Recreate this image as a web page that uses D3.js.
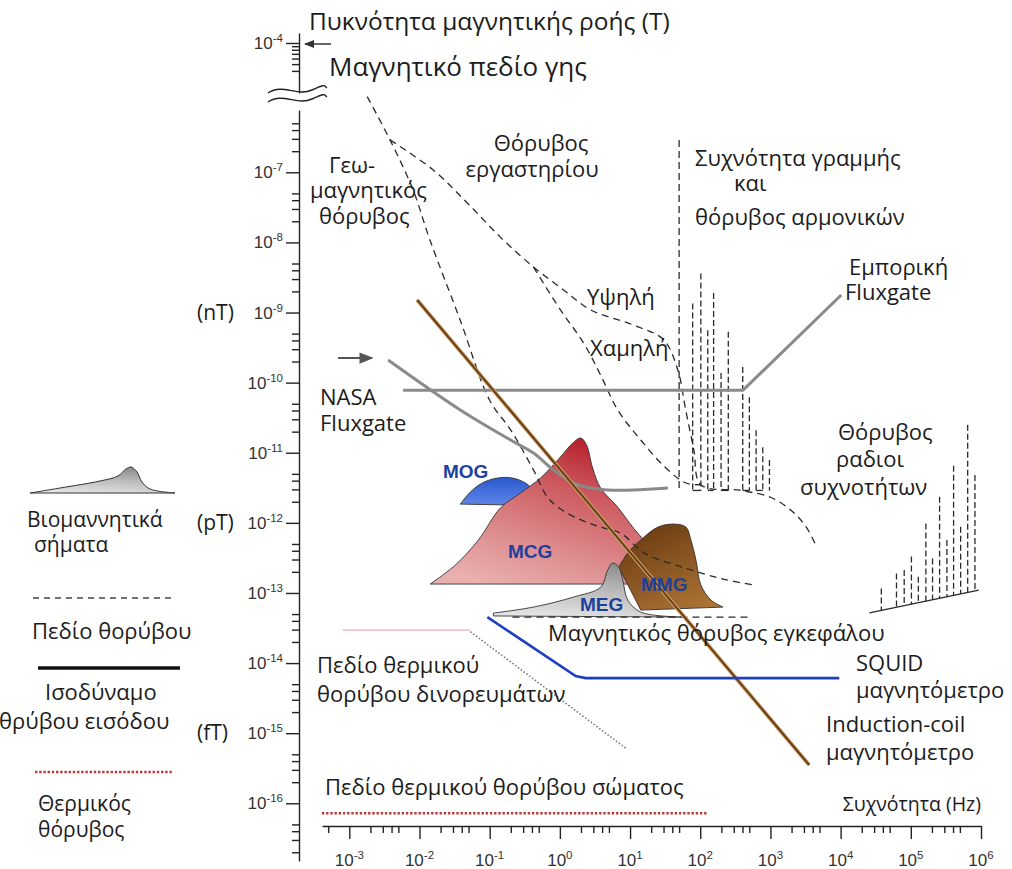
<!DOCTYPE html>
<html>
<head>
<meta charset="utf-8">
<script src="https://cdn.jsdelivr.net/npm/d3@7"></script>
<style>
  body { margin: 0; background: #fff; }
  svg { display: block; }
  .lbl { font-family: "Open Sans", "Noto Sans", sans-serif; font-size: 22px; fill: #1c1c1c; }
  .tk { font-family: "Liberation Sans", Arial, sans-serif; font-size: 17px; fill: #333; }
  .bio { font-family: "Liberation Sans", Arial, sans-serif; font-weight: bold; font-size: 19px; fill: #1d3f9e; }
</style>
</head>
<body>
<svg id="chart" width="1012" height="869"></svg>
<script>
// ---- Noise fields: [frequency (Hz), flux density (T)] ----
const geomagneticNoise = [[1.8e-3,1.2e-6],[3.8e-3,2.9e-7],[8.1e-3,5.6e-8],[1.4e-2,1.1e-8],[3.8e-2,7.8e-10],
  [0.10,5.6e-11],[0.20,2.1e-11],[0.42,5.7e-12],[0.67,2.3e-12],[1.1,1.5e-12],[2.0,1.1e-12],[3.8,8.7e-13],
  [7.4,7.1e-13],[16,3.7e-13],[58,2.3e-13],[200,1.6e-13],[570,1.3e-13]];
const labNoiseHigh = [[3.8e-3,2.9e-7],[1.57e-2,1.08e-7],[4.8e-2,3.65e-8],[0.142,1.19e-8],[0.42,4.46e-9],
  [1.13,2.1e-9],[2.75,1.09e-9],[11.3,6.6e-10],[30,4.1e-10],[48,1.5e-10],[62,4.1e-11],[81,1.1e-11],
  [102,3.5e-12],[380,2.9e-12],[1020,2.3e-12],[1980,1.5e-12],[3240,8.7e-13],[4600,4.4e-13]];
const labNoiseLow = [[0.42,4.46e-9],[1.02,1.09e-9],[2.18,3.67e-10],[3.81,1.28e-10],[6.67,4.07e-11],
  [14.2,1.52e-11],[32.4,6.05e-12],[62.5,3.7e-12],[102,3.5e-12]];
const brainNoise = [[0.211,4.53e-14],[530,4.53e-14]];

// ---- Power-line frequency and harmonics ----
const lineFrequency = 50;
const lineFrequencySpan = [2.9e-7, 2.9e-12];
const harmonicFreqs = [78,102,128,155,198,251,403,501,625,778,968];
const harmonicTops  = [1.35e-9,3.6e-9,5.6e-10,1.9e-9,1.37e-10,5.3e-10,1.67e-10,6.2e-11,2.1e-11,1.2e-11,7.9e-12];
const harmonicBase  = 2.9e-12;

// ---- Radio-frequency noise ----
const radioFreqs = [3.8e4,6.25e4,8.05e4,1.02e5,1.28e5,1.64e5,2.04e5,2.57e5,3.27e5,4.07e5,5.13e5,6.46e5,8.2e5];
const radioTops  = [1.16e-13,1.9e-13,2.12e-13,3.3e-13,1.7e-13,9.8e-13,3.1e-13,2.36e-12,5.7e-13,6.5e-12,8.8e-13,2.5e-11,4.8e-12];
const radioBase  = [[2.57e4,5.2e-14],[9.3e5,1.1e-13]];

// ---- Sensor input-equivalent noise ----
const nasaFluxgate = [[3.57e-3,2.1e-10],[3.81e-2,4.07e-11],[0.198,1.52e-11],[0.42,9.9e-12],[0.813,5.66e-12],
  [1.57,3.7e-12],[2.75,3.14e-12],[4.8,2.94e-12],[11.3,2.94e-12],[34.6,3.14e-12]];
const commercialFluxgate = [[5.85e-3,7.8e-11],[407,7.8e-11],[1.02e4,1.78e-9]];
const inductionCoil = [[9.27e-3,1.51e-9],[3.57e3,3.51e-16]];
const squidMagnetometer = [[9.27e-2,4.53e-14],[1.68,6.53e-15],[2.33,6.1e-15],[9.57e3,6.1e-15]];

// ---- Thermal noise ----
const eddyThermalFlat  = [[8.1e-4,2.96e-14],[5.3e-2,2.96e-14]];
const eddyThermalSlope = [[5.3e-2,2.8e-14],[8.7,6.1e-16]];
const bodyThermal = [[4.07e-4,7.2e-17],[129,7.2e-17]];

// ---- Biomagnetic signals (upper outline, then base) ----
const mogTop = [[3.81e-2,1.85e-12],[5.3e-2,2.75e-12],[7.83e-2,3.7e-12],[0.129,4.36e-12],[0.211,4.36e-12],[0.324,3.7e-12],[0.42,2.94e-12]];
const mogBase = [[0.275,1.79e-12]];
const mcgTop = [[1.42e-2,1.34e-13],[3.24e-2,2.5e-13],[6.9e-2,5.69e-13],[0.142,1.63e-12],[0.275,2.66e-12],[0.53,4.36e-12],
  [1.02,8.7e-12],[1.52,1.37e-11],[1.98,1.62e-11],[2.4,1.29e-11],[2.93,6.05e-12],[3.81,3.14e-12],[6.67,1.68e-12],
  [11.3,8.3e-13],[19.8,4.4e-13],[32.4,2.5e-13],[53,1.34e-13]];
const mcgBase = [];
const mmgTop = [[6.9,2.34e-13],[9.27,3.71e-13],[14.2,5.69e-13],[24.9,8.7e-13],[42.1,9.6e-13],[62.5,8.7e-13],[73.6,5.69e-13],
  [86.9,2.94e-13],[102,1.3e-13],[142,7.93e-14],[211,6.29e-14]];
const mmgBase = [[14.2,5.7e-14]];
const megTop = [[0.113,5.16e-14],[0.42,6.29e-14],[1.57,8.75e-14],[3.81,1.21e-13],[4.8,2.12e-13],[5.66,2.67e-13],[6.9,2.34e-13],
  [7.87,1.53e-13],[9.27,7.93e-14],[14.2,5.33e-14],[58.5,4.53e-14]];
const megBase = [[0.113,4.7e-14]];

// ---- Axes ----
const xTickExponents = [-3,-2,-1,0,1,2,3,4,5,6];
const yTickExponents = [-7,-8,-9,-10,-11,-12,-13,-14,-15,-16];
const yTopExponent = -4;
const yUnitLabels = [["(nT)",-9],["(pT)",-12],["(fT)",-15]];

const svg = d3.select("#chart");
const x = d3.scaleLog().domain([1e-3, 1e6]).range([349.3, 981]);
const y = d3.scaleLog().domain([1e-7, 1e-16]).range([172.3, 803.3]);
const yTop = d3.scaleLog().domain([1e-4, 1e-5]).range([43, 113.1]);

const defs = svg.append("defs");
function grad(id, stops, x1, y1, x2, y2) {
  const g = defs.append("linearGradient").attr("id", id)
    .attr("x1", x1).attr("y1", y1).attr("x2", x2).attr("y2", y2);
  stops.forEach(([o, c]) => g.append("stop").attr("offset", o).attr("stop-color", c));
}
grad("gMCG", [[0,"#b0121d"],[0.35,"#cd5a60"],[0.7,"#dd8d8f"],[1,"#eab0b0"]], 0.75, 0, 0.2, 1);
grad("gMOG", [[0,"#2a58d0"],[1,"#5f86e6"]], 0, 0, 0, 1);
grad("gMEG", [[0,"#8a8a8a"],[0.5,"#bdbdbd"],[1,"#e4e4e4"]], 0.6, 0, 0.3, 1);
grad("gMMG", [[0,"#6a3a10"],[1,"#ad7536"]], 0.2, 0, 0.8, 1);
function arrowMarker(id, color) {
  defs.append("marker").attr("id", id).attr("viewBox", "0 0 10 10").attr("refX", 9).attr("refY", 5)
    .attr("markerWidth", 7).attr("markerHeight", 7).attr("orient", "auto-start-reverse")
    .append("path").attr("d", "M0,1 L10,5 L0,9 Z").attr("fill", color);
}
arrowMarker("arrDark", "#333");
arrowMarker("arrGray", "#555");

// ---- X axis ----
const xAxisScale = x.copy().domain([x.invert(322), 1e6]).range([322, 981]);
const xMajor = xTickExponents.map(e => Math.pow(10, e));
const xMinor = [];
for (let e = -4; e < 6; e++) [2,3,4,5].forEach(m => { const v = m * Math.pow(10, e); if (v > xAxisScale.domain()[0] && v < 1e6) xMinor.push(v); });
const gx = svg.append("g").attr("transform", "translate(0,826)");
gx.call(d3.axisBottom(xAxisScale).tickValues(xMajor).tickSize(13).tickSizeOuter(0).tickFormat(""));
gx.append("g").call(d3.axisBottom(xAxisScale).tickValues(xMinor).tickSize(7).tickFormat("")).select(".domain").remove();
gx.selectAll("path,line").attr("stroke", "#222").attr("stroke-width", 1.4);
xTickExponents.forEach(e => {
  const t = svg.append("text").attr("class", "tk").attr("x", x(Math.pow(10, e))).attr("y", 866).attr("text-anchor", "middle");
  t.append("tspan").text("10");
  t.append("tspan").attr("dy", -7).style("font-size", "11.5px").text(e);
});

// ---- Y axis (lower segment) ----
const yAxisScale = y.copy().domain([y.invert(110), y.invert(861)]).range([110, 861]);
const yMajor = yTickExponents.map(e => Math.pow(10, e));
const yMinor = [];
for (let e = -17; e < -6; e++) [2,3,4,5].forEach(m => { const v = m * Math.pow(10, e); if (v < yAxisScale.domain()[0] && v > yAxisScale.domain()[1]) yMinor.push(v); });
const gy = svg.append("g").attr("class", "yaxis").attr("transform", "translate(299,0)");
gy.call(d3.axisLeft(yAxisScale).tickValues(yMajor).tickSize(13).tickSizeOuter(0).tickFormat(""));
gy.append("g").call(d3.axisLeft(yAxisScale).tickValues(yMinor).tickSize(7).tickFormat("")).select(".domain").remove();

// ---- Y axis (upper segment above the break) ----
const yTopAxisScale = yTop.copy().domain([yTop.invert(33), yTop.invert(93)]).range([33, 93]);
const yTopMinor = [9e-5,8e-5,7e-5,6e-5,5e-5,4e-5];
const gyt = svg.append("g").attr("class", "yaxis").attr("transform", "translate(299,0)");
gyt.call(d3.axisLeft(yTopAxisScale).tickValues([Math.pow(10, yTopExponent)]).tickSize(13).tickSizeOuter(0).tickFormat(""));
gyt.append("g").call(d3.axisLeft(yTopAxisScale).tickValues(yTopMinor).tickSize(7).tickFormat("")).select(".domain").remove();
svg.selectAll(".yaxis path, .yaxis line").attr("stroke", "#222").attr("stroke-width", 1.4);

function yLabel(yy, e) {
  const t = svg.append("text").attr("class", "tk").attr("x", 283).attr("y", yy + 6).attr("text-anchor", "end");
  t.append("tspan").text("10");
  t.append("tspan").attr("dy", -7).style("font-size", "11.5px").text(e);
}
yTickExponents.forEach(e => yLabel(y(Math.pow(10, e)), e));
yLabel(yTop(Math.pow(10, yTopExponent)), yTopExponent);
yUnitLabels.forEach(([u, e]) => svg.append("text").attr("class", "lbl").style("font-size", "21px")
  .attr("x", 197).attr("y", y(Math.pow(10, e)) + 7).text(u));

// axis break
[0, 9].forEach(dy => svg.append("path")
  .attr("d", `M268,${93 + dy} C283,${83 + dy} 297,${97 + dy} 312,${90 + dy} S324,${86 + dy} 327,${88 + dy}`)
  .attr("fill", "none").attr("stroke", "#222").attr("stroke-width", 1.4));
// earth field arrow
svg.append("line").attr("x1", 331).attr("y1", yTop(1e-4) + 1).attr("x2", 305).attr("y2", yTop(1e-4) + 1)
  .attr("stroke", "#333").attr("stroke-width", 1.5).attr("marker-end", "url(#arrDark)");

// ---- helpers ----
const line = d3.line().x(d => x(d[0])).y(d => y(d[1]));
const smooth = d3.line().x(d => x(d[0])).y(d => y(d[1])).curve(d3.curveCatmullRom.alpha(0.5));
function shape(top, base, fill) {
  const d = smooth(top) + base.map(p => `L${x(p[0])},${y(p[1])}`).join("") + "Z";
  svg.append("path").attr("d", d).attr("fill", fill).attr("stroke", "#333").attr("stroke-width", 0.9);
}

// ---- biomagnetic signals ----
shape(mogTop, mogBase, "url(#gMOG)");
shape(mcgTop, mcgBase, "url(#gMCG)");
shape(mmgTop, mmgBase, "url(#gMMG)");
shape(megTop, megBase, "url(#gMEG)");

// ---- noise fields (dashed) ----
const dashed = (data, fn) => svg.append("path").attr("d", fn(data)).attr("fill", "none")
  .attr("stroke", "#2a2a2a").attr("stroke-width", 1.3).attr("stroke-dasharray", "7,5");
dashed(geomagneticNoise, smooth);
dashed(labNoiseHigh, smooth);
dashed(labNoiseLow, smooth);
dashed(brainNoise, line);

// power line frequency and harmonics
svg.append("line").attr("x1", x(lineFrequency)).attr("x2", x(lineFrequency))
  .attr("y1", y(lineFrequencySpan[0])).attr("y2", y(lineFrequencySpan[1]))
  .attr("stroke", "#2a2a2a").attr("stroke-width", 1.3).attr("stroke-dasharray", "7,4");
harmonicFreqs.forEach((f, i) => {
  svg.append("line").attr("x1", x(f)).attr("x2", x(f)).attr("y1", y(harmonicTops[i])).attr("y2", y(harmonicBase))
    .attr("stroke", "#2a2a2a").attr("stroke-width", 1.3).attr("stroke-dasharray", "6,3");
  if (i % 2 === 0 && i + 1 < harmonicFreqs.length)
    svg.append("line").attr("x1", x(f)).attr("x2", x(harmonicFreqs[i + 1])).attr("y1", y(harmonicBase)).attr("y2", y(harmonicBase))
      .attr("stroke", "#2a2a2a").attr("stroke-width", 1.3);
});

// radio-frequency noise
const rb = radioBase.map(([f, b]) => [Math.log10(f), Math.log10(b)]);
const radioBaseAt = f => Math.pow(10, rb[0][1] + (Math.log10(f) - rb[0][0]) / (rb[1][0] - rb[0][0]) * (rb[1][1] - rb[0][1]));
svg.append("path").attr("d", line(radioBase)).attr("stroke", "#2a2a2a").attr("stroke-width", 1.3).attr("fill", "none");
radioFreqs.forEach((f, i) => {
  svg.append("line").attr("x1", x(f)).attr("x2", x(f)).attr("y1", y(radioTops[i])).attr("y2", y(radioBaseAt(f)))
    .attr("stroke", "#2a2a2a").attr("stroke-width", 1.3).attr("stroke-dasharray", "6,3");
});

// ---- thermal noise ----
svg.append("path").attr("d", line(eddyThermalFlat)).attr("stroke", "#e2b2b2").attr("stroke-width", 1.3).attr("fill", "none");
svg.append("path").attr("d", line(eddyThermalSlope)).attr("stroke", "#777").attr("stroke-width", 1.6)
  .attr("stroke-dasharray", "1.5,2").attr("fill", "none");
svg.append("path").attr("d", line(bodyThermal)).attr("stroke", "#b83a3a").attr("stroke-width", 2.4)
  .attr("stroke-dasharray", "2.4,1.8").attr("fill", "none");

// ---- sensors ----
svg.append("path").attr("d", line(commercialFluxgate)).attr("stroke", "#8a8a8a").attr("stroke-width", 3).attr("fill", "none");
svg.append("path").attr("d", smooth(nasaFluxgate)).attr("stroke", "#8a8a8a").attr("stroke-width", 3).attr("fill", "none");
svg.append("line").attr("x1", x(nasaFluxgate[0][0]) - 50).attr("x2", x(nasaFluxgate[0][0]) - 16)
  .attr("y1", y(nasaFluxgate[0][1]) - 2).attr("y2", y(nasaFluxgate[0][1]) - 2)
  .attr("stroke", "#555").attr("stroke-width", 2).attr("marker-end", "url(#arrGray)");
svg.append("path").attr("d", line(inductionCoil)).attr("stroke", "#d2aa78").attr("stroke-width", 4).attr("fill", "none");
svg.append("path").attr("d", line(inductionCoil)).attr("stroke", "#6e4216").attr("stroke-width", 2.2).attr("fill", "none");
svg.append("path").attr("d", line(squidMagnetometer)).attr("stroke", "#1e3fbf").attr("stroke-width", 2.6).attr("fill", "none");

// ---- biomagnetic labels ----
[["MOG", 443, 478], ["MCG", 508, 558], ["MEG", 580, 611], ["MMG", 641, 591]].forEach(([s, tx, ty]) =>
  svg.append("text").attr("class", "bio").attr("x", tx).attr("y", ty).text(s));

// ---- annotations ----
function txt(s, tx, ty, anchor = "start", size) {
  const t = svg.append("text").attr("class", "lbl").attr("x", tx).attr("y", ty).attr("text-anchor", anchor).text(s);
  if (size) t.style("font-size", size + "px");
  return t;
}
txt("Πυκνότητα μαγνητικής ροής (T)", 309, 30, "start", 24.5);
txt("Μαγνητικό πεδίο γης", 329, 76, "start", 26);
txt("Γεω-", 329, 173);
txt("μαγνητικός", 310, 198);
txt("θόρυβος", 319, 224);
txt("Θόρυβος", 541, 151, "middle");
txt("εργαστηρίου", 532, 177, "middle");
txt("Συχνότητα γραμμής", 695, 166);
txt("και", 734, 191);
txt("θόρυβος αρμονικών", 695, 225);
txt("Εμπορική", 849, 275);
txt("Fluxgate", 845, 300);
txt("Υψηλή", 587, 305);
txt("Χαμηλή", 590, 356);
txt("NASA", 320, 405);
txt("Fluxgate", 320, 431);
txt("Θόρυβος", 838, 440);
txt("ραδιοι", 836, 467);
txt("συχνοτήτων", 800, 495);
txt("Μαγνητικός θόρυβος εγκεφάλου", 548, 641);
txt("SQUID", 856, 671);
txt("μαγνητόμετρο", 856, 698);
txt("Induction-coil", 826, 732);
txt("μαγνητόμετρο", 826, 760);
txt("Πεδίο θερμικού", 317, 673);
txt("θορύβου δινορευμάτων", 317, 702);
txt("Πεδίο θερμικού θορύβου σώματος", 325, 795);
txt("Συχνότητα (Hz)", 981, 811, "end", 19.5);

// ---- legend ----
const legendBump = [[0,0],[30,-5],[70,-12],[88,-17],[96,-24],[101,-26],[107,-21],[112,-11],[120,-4],[145,0]];
svg.append("path").attr("transform", "translate(30,493)")
  .attr("d", d3.line().curve(d3.curveCatmullRom)(legendBump) + "Z")
  .attr("fill", "url(#gMEG)").attr("stroke", "#333").attr("stroke-width", 1);
txt("Βιομαννητικά", 27, 527, "start", 21);
txt("σήματα", 34, 552, "start", 21);
svg.append("line").attr("x1", 33).attr("x2", 175).attr("y1", 598).attr("y2", 598)
  .attr("stroke", "#444").attr("stroke-width", 1.4).attr("stroke-dasharray", "6,5");
txt("Πεδίο θορύβου", 32, 639);
svg.append("line").attr("x1", 38).attr("x2", 180).attr("y1", 668).attr("y2", 668)
  .attr("stroke", "#111").attr("stroke-width", 3.5);
txt("Ισοδύναμο", 45, 700);
txt("θρύβου εισόδου", -1, 729);
svg.append("line").attr("x1", 35).attr("x2", 172).attr("y1", 772).attr("y2", 772)
  .attr("stroke", "#b83a3a").attr("stroke-width", 2.4).attr("stroke-dasharray", "2.4,1.8");
txt("Θερμικός", 38, 811, "start", 21);
txt("θόρυβος", 38, 837, "start", 21);
</script>
</body>
</html>
